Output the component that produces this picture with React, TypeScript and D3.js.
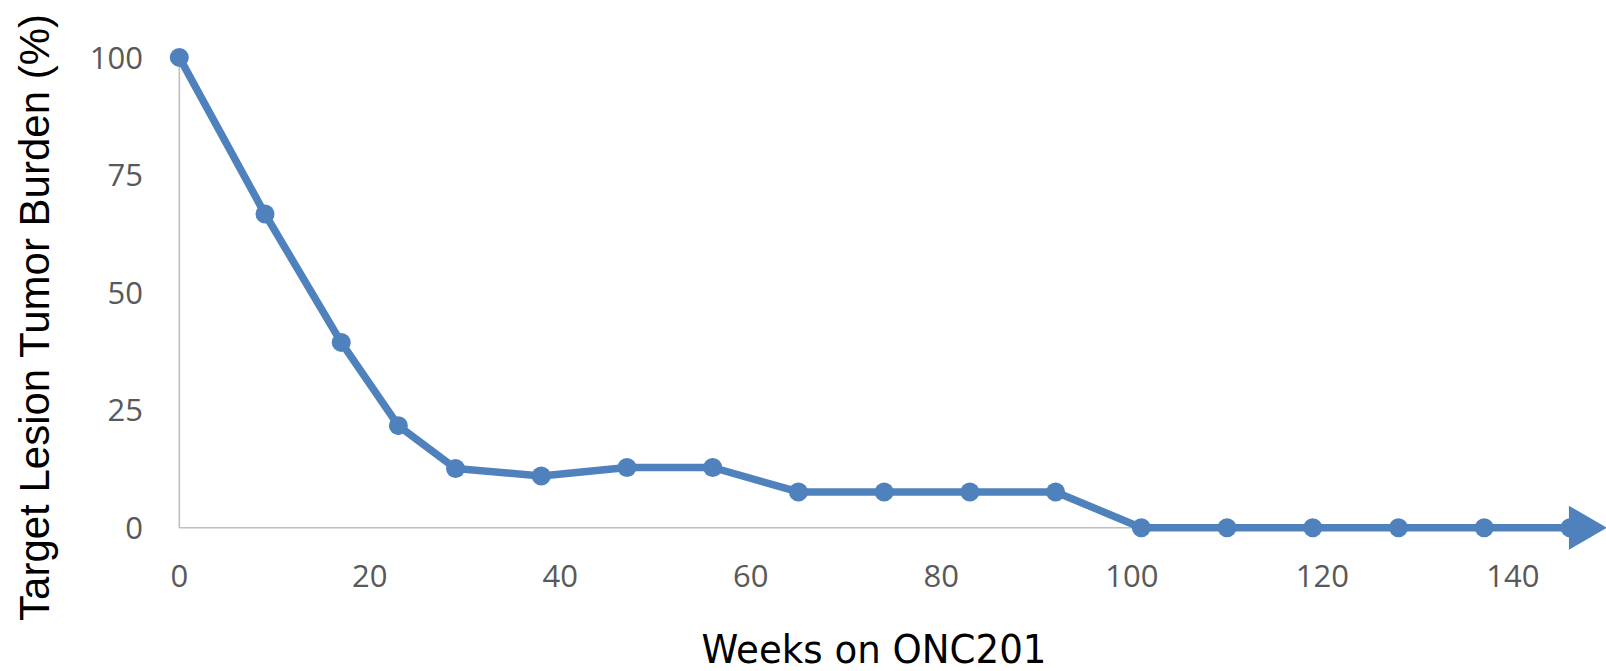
import React from 'react';
import * as d3 from 'd3';

const width: number = 1606;
const height: number = 671;

// data
const weeks: number[] = [0, 9, 17, 23, 29, 38, 47, 56, 65, 74, 83, 92, 101, 110, 119, 128, 137, 146];
const burden: number[] = [100, 66.7, 39.4, 21.7, 12.6, 11, 12.8, 12.8, 7.6, 7.6, 7.6, 7.6, 0, 0, 0, 0, 0, 0];
const xTicks: number[] = [0, 20, 40, 60, 80, 100, 120, 140];
const yTicks: number[] = [0, 25, 50, 75, 100];
const xTitle: string = 'Weeks on ONC201';
const yTitle: string = 'Target Lesion Tumor Burden (%)';

const blue: string = '#4F81BD';
const grey: string = '#BFBFBF';
const tickColor: string = '#595959';

export default function App() {
  const xScale: any = d3.scaleLinear().domain([0, 140]).range([179.3, 1512.8]);
  const yScale: any = d3.scaleLinear().domain([0, 100]).range([527.7, 57.4]);

  const points: [number, number][] = weeks.map((w, i) => [xScale(w), yScale(burden[i])]);
  const line: any = d3.line();

  // arrow head at the end of the series
  const [lx, ly] = points[points.length - 1];
  const arrow = `M${lx - 1},${ly - 22} L${lx + 37},${ly} L${lx - 1},${ly + 22} Z`;

  return (
    <svg width={width} height={height} style={{ position: 'absolute', left: 0, top: 0, background: '#fff' }}>
      {/* axes */}
      <line x1={xScale(0)} x2={xScale(0)} y1={yScale(0)} y2={yScale(100)} stroke={grey} strokeWidth={1.6} />
      <line x1={xScale(0)} x2={lx} y1={yScale(0)} y2={yScale(0)} stroke={grey} strokeWidth={1.6} />

      {yTicks.map((t) => (
        <text key={'y' + t} x={143} y={yScale(t)} dy="0.36em" textAnchor="end"
          fontFamily="'Open Sans', sans-serif" fontSize={31} fill={tickColor}>{t}</text>
      ))}
      {xTicks.map((t) => (
        <text key={'x' + t} x={xScale(t)} y={587} textAnchor="middle"
          fontFamily="'Open Sans', sans-serif" fontSize={31} fill={tickColor}>{t}</text>
      ))}

      {/* series */}
      <path d={line(points)} fill="none" stroke={blue} strokeWidth={7.5} strokeLinejoin="round" />
      {points.map((p, i) => (
        <circle key={i} cx={p[0]} cy={p[1]} r={9.5} fill={blue} />
      ))}
      <path d={arrow} fill={blue} />

      {/* titles */}
      <text x={874} y={663} textAnchor="middle" fontFamily="'DejaVu Sans', sans-serif" fontSize={39}
        fill="#000" textLength={345} lengthAdjust="spacingAndGlyphs">{xTitle}</text>
      <text transform="translate(49,317.5) rotate(-90)" textAnchor="middle" fontFamily="'Liberation Sans', Arial, sans-serif"
        fontSize={42} fill="#000">{yTitle}</text>
    </svg>
  );
}
